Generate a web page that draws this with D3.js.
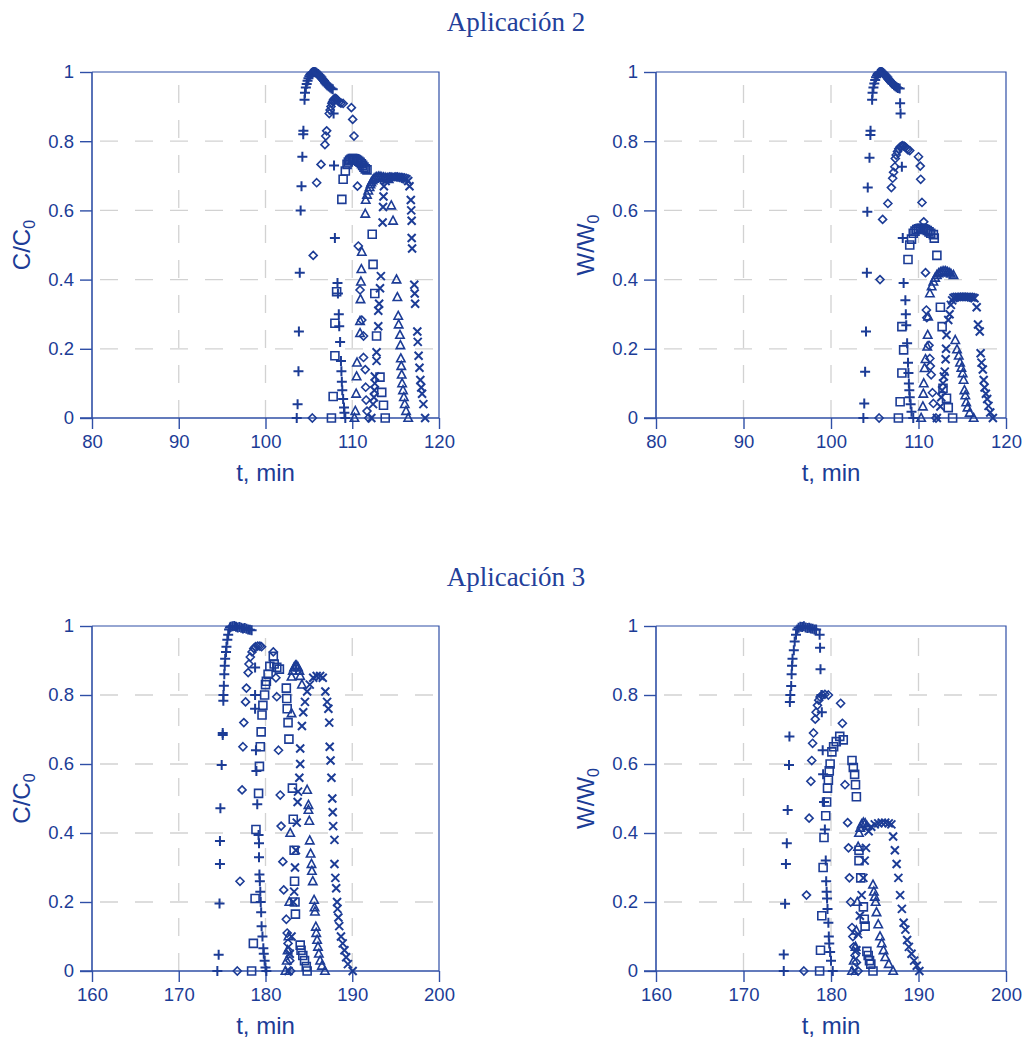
<!DOCTYPE html>
<html><head><meta charset="utf-8">
<script src="https://cdn.jsdelivr.net/npm/d3@7"></script>
<style>body{margin:0;background:#fff}svg{display:block}</style>
</head><body>
<svg id="c" width="1026" height="1038"></svg>
<script>
// ---------- DATA ----------
const titles = ["Aplicación 2", "Aplicación 3"];
const xTicksA2 = [80, 90, 100, 110, 120];
const xTicksA3 = [160, 170, 180, 190, 200];
const yTicks = [0, 0.2, 0.4, 0.6, 0.8, 1];
const yTickLabels = ["0", "0.2", "0.4", "0.6", "0.8", "1"];

// Aplicación 2, C/C0
const a2C_plus = [[103.6,0],[103.7,0.04],[103.8,0.135],[103.85,0.25],[103.95,0.42],[104.05,0.6],[104.15,0.67],[104.25,0.755],[104.35,0.82],[104.37,0.83],[104.5,0.92],[104.55,0.94],[104.65,0.955],[104.75,0.965],[104.85,0.975],[104.95,0.982],[105.05,0.988],[105.15,0.992],[105.25,0.995],[105.35,0.997],[105.45,0.999],[105.55,1.0],[105.65,1.0],[105.75,0.999],[105.85,0.998],[105.95,0.996],[106.05,0.994],[106.15,0.992],[106.25,0.99],[106.35,0.987],[106.45,0.984],[106.55,0.98],[106.65,0.977],[106.75,0.974],[106.85,0.97],[106.95,0.967],[107.05,0.964],[107.15,0.961],[107.3,0.958],[107.45,0.955],[107.6,0.952],[107.75,0.95],[107.85,0.88],[107.9,0.73],[108.0,0.52],[108.3,0.39],[108.35,0.36],[108.45,0.3],[108.5,0.265],[108.6,0.22],[108.7,0.165],[108.75,0.135],[108.8,0.105],[108.85,0.08],[108.95,0.055],[109.05,0.03],[109.1,0.015],[109.2,0]];
const a2C_diamond = [[105.4,0],[105.5,0.47],[105.9,0.68],[106.4,0.733],[106.85,0.79],[106.95,0.815],[107.05,0.83],[107.35,0.88],[107.45,0.89],[107.55,0.9],[107.65,0.91],[107.75,0.915],[107.85,0.92],[107.95,0.923],[108.05,0.924],[108.15,0.922],[108.25,0.92],[108.35,0.917],[108.5,0.913],[108.7,0.91],[108.95,0.909],[109.9,0.897],[110.05,0.863],[110.2,0.815],[110.6,0.67],[110.7,0.497],[110.9,0.37],[111.1,0.283],[111.3,0.237],[111.3,0.175],[111.5,0.14],[111.55,0.089],[111.6,0.052],[111.7,0.02],[111.9,0]];
const a2C_square = [[107.6,0],[107.8,0.062],[108.0,0.18],[108.0,0.274],[108.2,0.365],[108.8,0.632],[108.95,0.69],[109.2,0.714],[109.4,0.733],[109.55,0.74],[109.7,0.745],[109.85,0.748],[110.0,0.75],[110.15,0.75],[110.3,0.749],[110.45,0.747],[110.6,0.745],[110.75,0.742],[110.9,0.739],[111.05,0.735],[111.2,0.73],[111.35,0.725],[111.5,0.72],[111.7,0.717],[112.3,0.531],[112.4,0.444],[112.6,0.36],[112.8,0.237],[113.2,0.118],[113.4,0.074],[113.6,0.037],[113.8,0]];
const a2C_triangle = [[110.25,0],[110.35,0.02],[110.45,0.07],[110.5,0.12],[110.55,0.16],[110.9,0.245],[110.9,0.28],[110.95,0.343],[111.0,0.394],[111.05,0.43],[111.1,0.48],[111.5,0.59],[111.55,0.63],[111.7,0.645],[111.85,0.657],[112.0,0.667],[112.1,0.675],[112.2,0.681],[112.35,0.687],[112.5,0.691],[112.65,0.694],[112.8,0.696],[113.0,0.697],[113.2,0.697],[113.4,0.696],[113.6,0.695],[113.8,0.694],[114.0,0.692],[114.2,0.69],[114.5,0.614],[114.7,0.57],[115.1,0.4],[115.2,0.349],[115.3,0.295],[115.35,0.27],[115.5,0.24],[115.55,0.21],[115.6,0.172],[115.65,0.15],[115.7,0.125],[115.75,0.1],[115.85,0.08],[115.95,0.06],[116.05,0.04],[116.2,0.02],[116.45,0]];
const a2C_cross = [[112.2,0],[112.4,0.04],[112.5,0.06],[112.55,0.08],[112.6,0.1],[112.6,0.12],[112.8,0.165],[112.8,0.19],[113.0,0.265],[113.0,0.31],[113.1,0.33],[113.2,0.375],[113.3,0.41],[113.5,0.565],[113.55,0.61],[113.6,0.64],[113.65,0.67],[113.85,0.685],[114.05,0.692],[114.25,0.695],[114.45,0.697],[114.65,0.698],[114.85,0.698],[115.05,0.697],[115.25,0.697],[115.45,0.696],[115.65,0.695],[115.85,0.694],[116.05,0.692],[116.25,0.69],[116.45,0.685],[116.6,0.67],[116.75,0.63],[116.8,0.6],[116.85,0.57],[116.85,0.52],[116.9,0.49],[117.15,0.385],[117.2,0.36],[117.25,0.33],[117.5,0.25],[117.55,0.22],[117.65,0.18],[117.75,0.145],[117.85,0.11],[117.95,0.088],[118.05,0.07],[118.2,0.04],[118.4,0]];

// Aplicación 2, W/W0
const a2W_plus = [[103.7,0],[103.8,0.042],[103.9,0.134],[104.0,0.25],[104.1,0.42],[104.15,0.596],[104.2,0.666],[104.4,0.752],[104.5,0.818],[104.52,0.83],[104.7,0.92],[104.75,0.94],[104.85,0.955],[104.95,0.967],[105.05,0.977],[105.15,0.985],[105.25,0.99],[105.35,0.994],[105.45,0.997],[105.55,0.999],[105.65,1.0],[105.75,1.0],[105.85,0.999],[105.95,0.997],[106.05,0.995],[106.15,0.993],[106.25,0.99],[106.35,0.987],[106.45,0.984],[106.55,0.98],[106.65,0.977],[106.75,0.974],[106.85,0.971],[106.95,0.968],[107.05,0.965],[107.2,0.962],[107.35,0.959],[107.5,0.956],[107.65,0.954],[107.85,0.952],[107.9,0.91],[107.95,0.88],[108.1,0.726],[108.2,0.52],[108.3,0.39],[108.5,0.34],[108.55,0.3],[108.6,0.268],[108.7,0.216],[108.8,0.16],[108.85,0.13],[108.9,0.1],[108.95,0.08],[109.0,0.06],[109.1,0.04],[109.2,0.018],[109.4,0]];
const a2W_diamond = [[105.5,0],[105.6,0.4],[105.9,0.574],[106.5,0.62],[106.9,0.666],[107.05,0.693],[107.15,0.71],[107.3,0.726],[107.35,0.75],[107.45,0.76],[107.6,0.77],[107.75,0.778],[107.9,0.783],[108.05,0.786],[108.2,0.787],[108.35,0.786],[108.5,0.783],[108.65,0.779],[108.8,0.775],[109.0,0.773],[110.0,0.755],[110.2,0.728],[110.25,0.69],[110.4,0.623],[110.6,0.567],[110.8,0.42],[110.9,0.312],[110.95,0.29],[111.2,0.21],[111.3,0.172],[111.35,0.15],[111.45,0.125],[111.6,0.073],[111.7,0.042],[112.0,0]];
const a2W_square = [[107.7,0],[107.9,0.047],[108.1,0.13],[108.3,0.197],[108.1,0.264],[108.8,0.458],[109.0,0.5],[109.2,0.517],[109.4,0.534],[109.6,0.54],[109.8,0.545],[110.0,0.547],[110.2,0.548],[110.4,0.548],[110.6,0.547],[110.8,0.545],[111.0,0.542],[111.2,0.538],[111.4,0.534],[111.7,0.53],[111.8,0.52],[112.1,0.47],[112.5,0.32],[112.7,0.264],[112.8,0.086],[113.2,0.057],[113.4,0.03],[113.9,0]];
const a2W_triangle = [[110.3,0],[110.5,0.033],[110.55,0.07],[110.6,0.1],[110.7,0.144],[110.8,0.17],[111.0,0.206],[111.05,0.24],[111.1,0.293],[111.3,0.36],[111.5,0.38],[111.7,0.394],[111.9,0.405],[112.1,0.413],[112.3,0.418],[112.5,0.421],[112.7,0.423],[112.9,0.424],[113.1,0.424],[113.3,0.422],[113.5,0.42],[113.7,0.417],[114.0,0.413],[114.2,0.225],[114.4,0.198],[114.6,0.18],[114.75,0.16],[114.9,0.145],[115.05,0.129],[115.15,0.11],[115.25,0.08],[115.35,0.065],[115.45,0.045],[115.6,0.03],[115.85,0.015],[116.3,0]];
const a2W_cross = [[112.1,0],[112.5,0.033],[112.6,0.06],[112.7,0.08],[112.8,0.1],[112.9,0.12],[113.0,0.134],[113.1,0.17],[113.15,0.2],[113.2,0.24],[113.4,0.283],[113.55,0.3],[113.7,0.327],[113.85,0.34],[114.0,0.347],[114.2,0.349],[114.4,0.35],[114.6,0.35],[114.8,0.35],[115.0,0.35],[115.2,0.35],[115.4,0.35],[115.6,0.35],[115.8,0.35],[116.0,0.349],[116.2,0.348],[116.4,0.346],[116.65,0.32],[116.8,0.27],[117.0,0.25],[117.1,0.187],[117.2,0.16],[117.35,0.14],[117.45,0.11],[117.55,0.088],[117.7,0.07],[117.85,0.055],[118.0,0.035],[118.2,0.016],[118.5,0]];

// Aplicación 3, C/C0
const a3C_plus = [[174.45,0],[174.6,0.047],[174.7,0.196],[174.75,0.31],[174.75,0.377],[174.8,0.472],[174.95,0.597],[175.07,0.684],[175.07,0.69],[175.14,0.783],[175.15,0.8],[175.2,0.827],[175.25,0.86],[175.3,0.885],[175.35,0.905],[175.45,0.925],[175.5,0.94],[175.6,0.96],[175.7,0.975],[175.8,0.99],[175.9,0.996],[176.0,0.998],[176.2,0.999],[176.4,1.0],[176.6,0.998],[176.8,0.996],[177.0,0.997],[177.2,0.995],[177.4,0.993],[177.6,0.994],[177.8,0.992],[178.0,0.99],[178.2,0.989],[178.4,0.988],[178.8,0.88],[178.8,0.8],[178.8,0.76],[178.9,0.64],[178.95,0.58],[179.05,0.483],[179.2,0.394],[179.25,0.37],[179.25,0.33],[179.3,0.28],[179.35,0.26],[179.4,0.23],[179.45,0.2],[179.5,0.17],[179.55,0.13],[179.65,0.1],[179.75,0.066],[179.8,0.05],[179.9,0.03],[180.0,0.01],[180.1,0]];
const a3C_diamond = [[176.75,0],[177.06,0.26],[177.3,0.525],[177.4,0.65],[177.5,0.72],[177.7,0.78],[177.8,0.82],[178.0,0.865],[178.1,0.89],[178.25,0.91],[178.45,0.925],[178.65,0.935],[178.85,0.94],[179.1,0.942],[179.35,0.942],[179.55,0.94],[180.9,0.925],[181.2,0.85],[181.3,0.795],[181.5,0.64],[181.7,0.51],[181.8,0.42],[182.0,0.317],[182.1,0.235],[182.4,0.15],[182.5,0.11],[182.6,0.08],[182.7,0.058],[182.8,0.03],[182.9,0]];
const a3C_square = [[178.4,0],[178.6,0.08],[178.8,0.21],[178.9,0.41],[179.2,0.515],[179.3,0.593],[179.4,0.65],[179.5,0.693],[179.6,0.742],[179.7,0.77],[179.9,0.8],[180.0,0.83],[180.1,0.84],[180.3,0.86],[180.5,0.883],[180.9,0.912],[181.0,0.89],[181.3,0.88],[181.6,0.875],[182.4,0.82],[182.45,0.79],[182.5,0.76],[182.6,0.72],[182.7,0.672],[183.1,0.53],[183.2,0.44],[183.3,0.35],[183.35,0.26],[183.4,0.2],[183.45,0.165],[184.0,0.075],[184.1,0.06],[184.3,0.045],[184.5,0.03],[184.7,0.013],[184.8,0]];
const a3C_triangle = [[182.3,0],[182.45,0.03],[182.55,0.06],[182.65,0.1],[182.75,0.2],[182.85,0.4],[183.0,0.747],[183.0,0.853],[183.15,0.87],[183.3,0.88],[183.45,0.885],[183.6,0.885],[183.75,0.88],[183.9,0.87],[184.0,0.855],[184.2,0.83],[184.8,0.525],[184.95,0.481],[184.95,0.467],[185.05,0.435],[185.1,0.378],[185.2,0.34],[185.3,0.31],[185.35,0.29],[185.45,0.26],[185.6,0.206],[185.65,0.184],[185.7,0.172],[185.8,0.128],[185.85,0.11],[185.95,0.09],[186.05,0.07],[186.15,0.05],[186.3,0.03],[186.5,0.015],[186.85,0]];
const a3C_cross = [[182.65,0],[182.8,0.05],[183.0,0.1],[183.2,0.2],[183.3,0.23],[183.4,0.3],[183.5,0.35],[183.6,0.43],[183.7,0.49],[183.75,0.52],[183.9,0.56],[184.0,0.6],[184.0,0.645],[184.2,0.71],[184.35,0.75],[184.55,0.78],[184.8,0.81],[185.1,0.83],[185.5,0.85],[185.9,0.855],[186.3,0.855],[186.6,0.85],[186.9,0.81],[187.1,0.78],[187.25,0.76],[187.35,0.72],[187.4,0.65],[187.5,0.61],[187.6,0.56],[187.7,0.5],[187.75,0.46],[187.8,0.42],[187.95,0.38],[187.95,0.31],[188.05,0.27],[188.15,0.24],[188.25,0.2],[188.3,0.18],[188.4,0.155],[188.5,0.13],[188.7,0.1],[188.9,0.08],[189.1,0.06],[189.3,0.04],[189.5,0.02],[190.05,0]];

// Aplicación 3, W/W0
const a3W_plus = [[174.6,0],[174.6,0.048],[174.75,0.195],[174.85,0.31],[174.95,0.37],[175.05,0.467],[175.2,0.597],[175.25,0.68],[175.3,0.78],[175.35,0.8],[175.45,0.826],[175.5,0.86],[175.55,0.885],[175.6,0.905],[175.75,0.93],[175.85,0.955],[176.0,0.975],[176.15,0.99],[176.3,0.995],[176.5,0.998],[176.7,0.997],[176.9,0.999],[177.1,0.996],[177.3,0.994],[177.5,0.995],[177.7,0.993],[177.9,0.992],[178.1,0.99],[178.3,0.99],[178.7,0.975],[178.75,0.937],[178.8,0.875],[178.9,0.8],[178.95,0.75],[179.05,0.64],[179.1,0.57],[179.2,0.49],[179.3,0.41],[179.4,0.32],[179.45,0.26],[179.5,0.23],[179.55,0.21],[179.6,0.18],[179.7,0.14],[179.75,0.1],[179.8,0.08],[179.9,0.055],[180.0,0.03],[180.2,0]];
const a3W_diamond = [[176.9,0],[177.2,0.22],[177.5,0.443],[177.7,0.55],[177.8,0.61],[177.9,0.66],[178.0,0.69],[178.2,0.73],[178.3,0.75],[178.45,0.77],[178.6,0.785],[178.75,0.794],[179.0,0.8],[179.3,0.802],[179.7,0.8],[181.1,0.776],[181.3,0.718],[181.6,0.54],[181.9,0.43],[182.0,0.357],[182.1,0.27],[182.25,0.2],[182.4,0.126],[182.5,0.1],[182.6,0.07],[182.75,0.045],[182.9,0.025],[183.1,0]];
const a3W_square = [[178.7,0],[178.8,0.06],[178.95,0.16],[179.1,0.3],[179.2,0.387],[179.4,0.45],[179.5,0.49],[179.6,0.53],[179.7,0.553],[179.8,0.58],[179.9,0.6],[180.1,0.635],[180.3,0.65],[180.6,0.665],[181.0,0.68],[181.4,0.67],[182.4,0.61],[182.55,0.59],[182.7,0.57],[182.8,0.54],[182.9,0.505],[183.2,0.35],[183.2,0.32],[183.4,0.27],[183.7,0.186],[183.8,0.15],[183.9,0.13],[184.1,0.057],[184.25,0.045],[184.4,0.03],[184.55,0.02],[184.8,0]];
const a3W_triangle = [[182.4,0],[182.6,0.03],[182.8,0.07],[182.9,0.117],[183.0,0.2],[183.1,0.36],[183.2,0.4],[183.35,0.415],[183.5,0.425],[183.7,0.43],[183.9,0.428],[184.1,0.42],[184.8,0.25],[184.9,0.23],[185.0,0.215],[185.1,0.2],[185.2,0.17],[185.4,0.135],[185.6,0.1],[185.8,0.08],[186.0,0.06],[186.2,0.04],[186.6,0.02],[187.1,0]];
const a3W_cross = [[182.7,0],[182.9,0.06],[183.1,0.107],[183.3,0.16],[183.5,0.22],[183.7,0.27],[183.85,0.32],[184.0,0.357],[184.3,0.405],[184.6,0.418],[185.0,0.425],[185.4,0.428],[185.8,0.43],[186.2,0.43],[186.6,0.428],[186.9,0.425],[187.1,0.39],[187.3,0.35],[187.5,0.31],[187.7,0.27],[187.9,0.22],[188.1,0.18],[188.3,0.14],[188.5,0.12],[188.7,0.09],[188.9,0.07],[189.2,0.05],[189.5,0.03],[189.8,0.015],[190.1,0]];

// ---------- DRAW ----------
const BLUE = "#1c3c96", AXIS = "#2f4fa6", GRID = "#d2d2d2";
const svg = d3.select("#c");

const shapes = {
  plus: "M-5,0H5M0,-5V5",
  diamond: "M0,-4L4,0L0,4L-4,0Z",
  square: "M-4,-4H4V4H-4Z",
  triangle: "M0,-4.6L4.2,3.3L-4.2,3.3Z",
  cross: "M-4,-4L4,4M4,-4L-4,4"
};

const panels = [
  {x0:92, x1:439, y0:72, y1:418, xd:[80,120], xt:xTicksA2, lab:"C", series:{plus:a2C_plus,diamond:a2C_diamond,square:a2C_square,triangle:a2C_triangle,cross:a2C_cross}},
  {x0:656, x1:1006, y0:72, y1:418, xd:[80,120], xt:xTicksA2, lab:"W", series:{plus:a2W_plus,diamond:a2W_diamond,square:a2W_square,triangle:a2W_triangle,cross:a2W_cross}},
  {x0:92, x1:439, y0:626, y1:971, xd:[160,200], xt:xTicksA3, lab:"C", series:{plus:a3C_plus,diamond:a3C_diamond,square:a3C_square,triangle:a3C_triangle,cross:a3C_cross}},
  {x0:656, x1:1006, y0:626, y1:971, xd:[160,200], xt:xTicksA3, lab:"W", series:{plus:a3W_plus,diamond:a3W_diamond,square:a3W_square,triangle:a3W_triangle,cross:a3W_cross}}
];

panels.forEach(p => {
  const x = d3.scaleLinear().domain(p.xd).range([p.x0, p.x1]);
  const y = d3.scaleLinear().domain([0,1]).range([p.y1, p.y0]);
  const g = svg.append("g");
  // grid
  g.selectAll(".vg").data(p.xt.slice(1,-1)).join("line")
    .attr("x1", d=>x(d)).attr("x2", d=>x(d)).attr("y1", p.y1).attr("y2", p.y0)
    .attr("stroke", GRID).attr("stroke-width", 1.3).attr("stroke-dasharray", "18,17");
  g.selectAll(".hg").data(yTicks.slice(1,-1)).join("line")
    .attr("y1", d=>y(d)).attr("y2", d=>y(d)).attr("x1", p.x0).attr("x2", p.x1)
    .attr("stroke", GRID).attr("stroke-width", 1.3).attr("stroke-dasharray", "18,17").attr("stroke-dashoffset", -8);
  // frame top/right
  g.append("path").attr("d", `M${p.x0},${p.y0}H${p.x1}V${p.y1}`).attr("fill","none").attr("stroke", AXIS).attr("stroke-width", 1.2);
  // axes
  const xa = g.append("g").attr("transform", `translate(0,${p.y1})`)
    .call(d3.axisBottom(x).tickValues(p.xt).tickSize(11).tickSizeOuter(0).tickPadding(6));
  const ya = g.append("g").attr("transform", `translate(${p.x0},0)`)
    .call(d3.axisLeft(y).tickValues(yTicks).tickFormat((d,i)=>yTickLabels[i]).tickSize(12).tickSizeOuter(0).tickPadding(6));
  [xa, ya].forEach(a => {
    a.select(".domain").attr("stroke", AXIS).attr("stroke-width", 1.6);
    a.selectAll(".tick line").attr("stroke", AXIS).attr("stroke-width", 1.4);
    a.selectAll("text").attr("fill", BLUE).attr("font-family", "Liberation Sans, Arial, sans-serif").attr("font-size", 18.5);
  });
  ya.select(".domain").attr("d", `M0,${p.y1}V${p.y0}`);
  xa.select(".domain").attr("d", `M${p.x0-12},0H${p.x1}`);
  // axis titles
  g.append("text").attr("x", (p.x0+p.x1)/2).attr("y", p.y1+63).attr("text-anchor","middle")
    .attr("fill", BLUE).attr("font-family","Liberation Sans, Arial, sans-serif").attr("font-size", 24).text("t, min");
  const yl = g.append("text").attr("transform", `translate(${p.x0-62},${(p.y0+p.y1)/2}) rotate(-90)`)
    .attr("text-anchor","middle").attr("fill", BLUE).attr("font-family","Liberation Sans, Arial, sans-serif").attr("font-size", 24);
  yl.append("tspan").text(p.lab + "/" + p.lab);
  yl.append("tspan").attr("font-size", 16).attr("dy", 5).text("0");
  // markers
  Object.entries(p.series).forEach(([k, data]) => {
    g.append("g").selectAll("path").data(data).join("path")
      .attr("d", shapes[k])
      .attr("transform", d => `translate(${x(d[0])},${y(d[1])})`)
      .attr("fill", "none").attr("stroke", BLUE).attr("stroke-width", k==="plus"||k==="cross" ? 2 : 1.6);
  });
});

// titles
svg.append("text").attr("x", 516).attr("y", 31).attr("text-anchor","middle").attr("fill", "#23409a")
  .attr("font-family","Liberation Serif, Times New Roman, serif").attr("font-size", 27).text(titles[0]);
svg.append("text").attr("x", 516).attr("y", 586).attr("text-anchor","middle").attr("fill", "#23409a")
  .attr("font-family","Liberation Serif, Times New Roman, serif").attr("font-size", 27).text(titles[1]);
</script>
</body></html>
